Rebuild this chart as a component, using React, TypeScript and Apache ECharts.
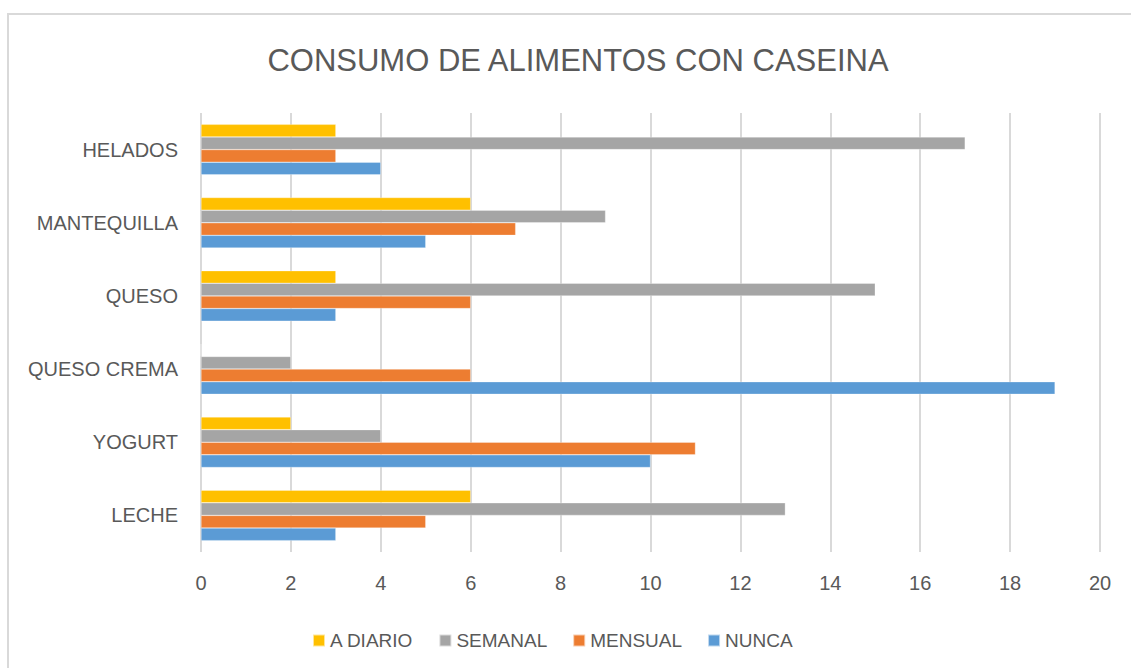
import React, { useEffect, useRef } from "react";
import * as echarts from "echarts";

const categories = ["LECHE", "YOGURT", "QUESO CREMA", "QUESO", "MANTEQUILLA", "HELADOS"];
const aDiario = [6, 2, 0, 3, 6, 3];
const semanal = [13, 4, 2, 15, 9, 17];
const mensual = [5, 11, 6, 6, 7, 3];
const nunca = [3, 10, 19, 3, 5, 4];
const seriesNames = ["A DIARIO", "SEMANAL", "MENSUAL", "NUNCA"];
const seriesColors = ["#FFC000", "#A5A5A5", "#ED7D31", "#5B9BD5"];
const titleText = "CONSUMO DE ALIMENTOS CON CASEINA";

export default function App() {
  const ref = useRef<HTMLDivElement>(null);
  useEffect(() => {
    if (!ref.current) return;
    const chart = echarts.init(ref.current, null, { renderer: "svg" });
    const values = [aDiario, semanal, mensual, nunca];
    const font = "'Liberation Sans', Arial, sans-serif";
    chart.setOption({
      animation: false,
      backgroundColor: "#ffffff",
      textStyle: { fontFamily: font },
      title: {
        text: titleText,
        left: 573,
        textAlign: "center",
        top: 40,
        textStyle: { fontSize: 31, fontWeight: "normal", color: "#595959", fontFamily: font },
      },
      graphic: [
        {
          type: "rect",
          shape: { x: 8, y: 14, width: 1200, height: 700 },
          style: { fill: "none", stroke: "#d9d9d9", lineWidth: 2 },
          silent: true,
          z: -10,
        },
      ],
      legend: {
        data: seriesNames,
        left: 307,
        top: 626,
        icon: "rect",
        itemWidth: 12,
        itemHeight: 12,
        itemGap: 25,
        textStyle: { fontSize: 19, color: "#595959", fontFamily: font },
      },
      grid: { left: 201, right: 31, top: 113, bottom: 116, containLabel: false },
      xAxis: {
        type: "value",
        min: 0,
        max: 20,
        interval: 2,
        axisLine: { show: false },
        axisTick: { show: false },
        axisLabel: { fontSize: 20, color: "#595959", margin: 21, fontFamily: font },
        splitLine: { show: true, lineStyle: { color: "#d9d9d9", width: 2 } },
      },
      yAxis: {
        type: "category",
        data: categories,
        axisLine: { show: false },
        axisTick: { show: false },
        axisLabel: { fontSize: 20, color: "#595959", margin: 23, fontFamily: font },
      },
      series: seriesNames.map((name, i) => ({
        name,
        type: "bar",
        data: values[i],
        barGap: "0%",
        barCategoryGap: "31%",
        itemStyle: { color: seriesColors[i], borderColor: "rgba(255,255,255,0.6)", borderWidth: 0.5 },
      })),
    });
    return () => chart.dispose();
  }, []);
  return (
    <div
      ref={ref}
      style={{ position: "fixed", left: 0, top: 0, width: 1131, height: 668 }}
    />
  );
}
